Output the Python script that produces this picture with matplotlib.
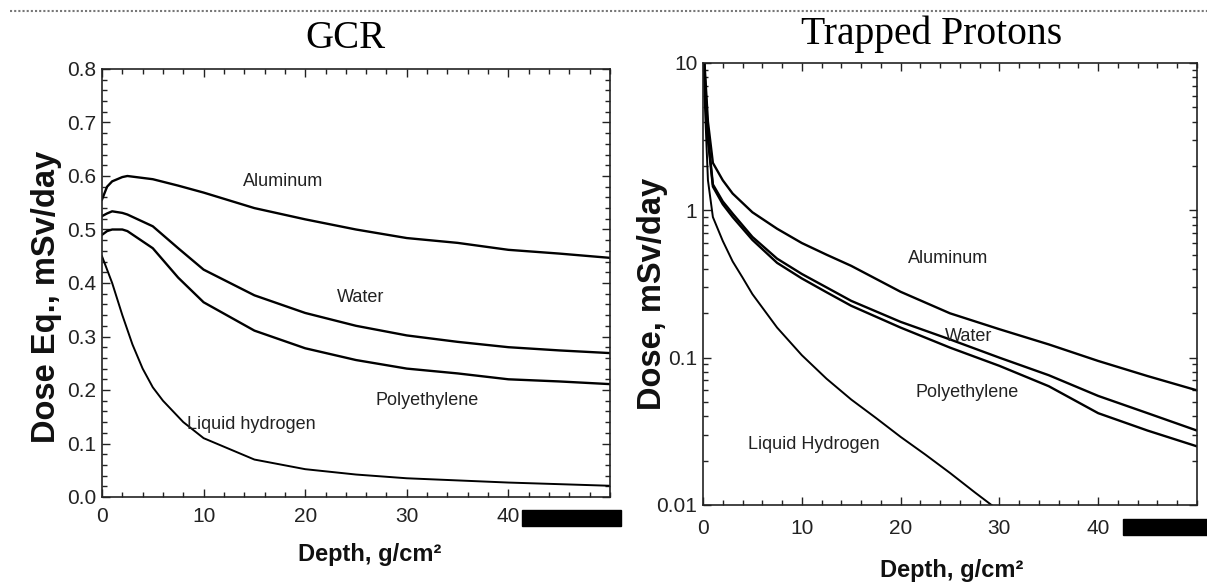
import numpy as np
import matplotlib
matplotlib.use('Agg')
import matplotlib.pyplot as plt
from matplotlib.lines import Line2D
from matplotlib.patches import Rectangle
from matplotlib.ticker import (MultipleLocator, LogLocator, FixedLocator, NullFormatter,
                               FormatStrFormatter, FixedFormatter)

# GCR dose equivalent vs depth (mSv/day)
gcr_depth = [0, 0.5, 1, 2, 2.5, 5, 7.5, 10, 15, 20, 25, 30, 35, 40, 45, 50]
gcr_al = [0.556, 0.58, 0.59, 0.598, 0.60, 0.594, 0.582, 0.569, 0.54, 0.519, 0.50, 0.484, 0.475, 0.462, 0.455, 0.447]
gcr_water = [0.525, 0.53, 0.534, 0.531, 0.528, 0.506, 0.465, 0.425, 0.377, 0.344, 0.32, 0.302, 0.29, 0.28, 0.274, 0.269]
gcr_poly = [0.49, 0.497, 0.50, 0.50, 0.497, 0.465, 0.41, 0.364, 0.311, 0.278, 0.256, 0.24, 0.231, 0.22, 0.216, 0.211]
gcr_lh2_depth = [0, 1, 2, 3, 4, 5, 6, 8, 10, 15, 20, 25, 30, 40, 50]
gcr_lh2 = [0.45, 0.40, 0.34, 0.285, 0.24, 0.205, 0.18, 0.14, 0.11, 0.07, 0.052, 0.042, 0.035, 0.027, 0.021]

# Trapped proton dose vs depth (mSv/day)
tp_depth = [0, 0.15, 0.5, 1, 2, 3, 5, 7.5, 10, 12.5, 15, 20, 25, 30, 35, 40, 45, 50]
tp_al = [15, 10, 4.0, 2.1, 1.6, 1.3, 0.97, 0.75, 0.6, 0.5, 0.42, 0.28, 0.2, 0.156, 0.123, 0.095, 0.075, 0.06]
tp_water = [15, 9, 3.2, 1.5, 1.15, 0.95, 0.66, 0.47, 0.37, 0.30, 0.243, 0.175, 0.133, 0.1, 0.076, 0.055, 0.042, 0.032]
tp_poly = [15, 9, 3.0, 1.45, 1.1, 0.9, 0.63, 0.44, 0.345, 0.278, 0.225, 0.16, 0.117, 0.088, 0.064, 0.042, 0.032, 0.025]
tp_lh2_depth = [0, 0.15, 0.5, 1, 2, 3, 4, 5, 7.5, 10, 12.5, 15, 17.5, 20, 22.5, 25, 27.5, 29.2, 31]
tp_lh2 = [15, 6, 1.6, 0.9, 0.62, 0.45, 0.35, 0.27, 0.16, 0.104, 0.072, 0.052, 0.039, 0.029, 0.022, 0.0165, 0.0122, 0.01, 0.0082]

x_ticks = [0, 10, 20, 30, 40]
log_ticks = [0.01, 0.1, 1, 10]
log_tick_labels = ['0.01', '0.1', '1', '10']

sans = ['Liberation Sans', 'DejaVu Sans']
serif = ['Liberation Serif', 'DejaVu Serif']

plt.rcParams['font.family'] = sans

fig = plt.figure(figsize=(12.07, 5.86), dpi=100)
W, H = 1207, 586


def box(x0, y0, x1, y1):
    return [x0 / W, 1 - y1 / H, (x1 - x0) / W, (y1 - y0) / H]


ax1 = fig.add_axes(box(102, 69, 610, 497))
ax2 = fig.add_axes(box(703, 63, 1197, 505))

lw = 1.7
ax1.plot(gcr_depth, gcr_al, color='black', lw=lw)
ax1.plot(gcr_depth, gcr_water, color='black', lw=lw)
ax1.plot(gcr_depth, gcr_poly, color='black', lw=lw)
ax1.plot(gcr_lh2_depth, gcr_lh2, color='black', lw=1.4)
ax1.set_xlim(0, 50)
ax1.set_ylim(0, 0.8)
ax1.xaxis.set_major_locator(FixedLocator(x_ticks))
ax1.xaxis.set_minor_locator(MultipleLocator(2))
ax1.yaxis.set_major_locator(MultipleLocator(0.1))
ax1.yaxis.set_minor_locator(MultipleLocator(0.02))
ax1.yaxis.set_major_formatter(FormatStrFormatter('%.1f'))

ax2.plot(tp_depth, tp_al, color='black', lw=lw)
ax2.plot(tp_depth, tp_water, color='black', lw=lw)
ax2.plot(tp_depth, tp_poly, color='black', lw=lw)
ax2.plot(tp_lh2_depth, tp_lh2, color='black', lw=1.4)
ax2.set_yscale('log')
ax2.set_xlim(0, 50)
ax2.set_ylim(0.01, 10)
ax2.xaxis.set_major_locator(FixedLocator(x_ticks))
ax2.xaxis.set_minor_locator(MultipleLocator(2))
ax2.yaxis.set_major_locator(FixedLocator(log_ticks))
ax2.yaxis.set_major_formatter(FixedFormatter(log_tick_labels))
ax2.yaxis.set_minor_locator(LogLocator(base=10, subs=np.arange(2, 10)))
ax2.yaxis.set_minor_formatter(NullFormatter())

for ax, xpad in ((ax1, 7), (ax2, 10)):
    for s in ax.spines.values():
        s.set_linewidth(1.2)
        s.set_color('#222222')
    ax.tick_params(which='both', direction='in', top=True, right=True, color='#222222', width=1.0)
    ax.tick_params(which='major', length=6)
    ax.tick_params(which='minor', length=3.5)
    ax.tick_params(axis='x', which='major', pad=xpad, labelsize=15, labelcolor='#222222')
    ax.tick_params(axis='y', which='major', pad=4, labelsize=15, labelcolor='#222222')

# curve labels
lab = dict(fontsize=13, color='#222222', ha='center', va='center')
ax1.text(17.8, 0.59, 'Aluminum', **lab)
ax1.text(25.5, 0.372, 'Water', **lab)
ax1.text(32, 0.181, 'Polyethylene', **lab)
ax1.text(14.7, 0.136, 'Liquid hydrogen', **lab)
ax2.text(24.8, 0.47, 'Aluminum', **lab)
ax2.text(26.9, 0.14, 'Water', **lab)
ax2.text(26.7, 0.058, 'Polyethylene', **lab)
ax2.text(11.25, 0.0257, 'Liquid Hydrogen', **lab)

# titles and axis labels
fig.text(345 / W, 1 - 38 / H, 'GCR', family=serif, fontsize=28, ha='center', va='center')
fig.text(932 / W, 1 - 34 / H, 'Trapped Protons', family=serif, fontsize=28.5, ha='center', va='center')
fig.text(47 / W, 1 - 297 / H, 'Dose Eq., mSv/day', fontsize=23.5, fontweight='bold',
         rotation=90, ha='center', va='center', color='#111111')
fig.text(652 / W, 1 - 294 / H, 'Dose, mSv/day', fontsize=23.5, fontweight='bold',
         rotation=90, ha='center', va='center', color='#111111')
fig.text(370 / W, 1 - 555 / H, 'Depth, g/cm²', fontsize=17, fontweight='bold',
         ha='center', va='center', color='#111111')
fig.text(952 / W, 1 - 571 / H, 'Depth, g/cm²', fontsize=17, fontweight='bold',
         ha='center', va='center', color='#111111')

# dotted rule at the top and black blocks over the last tick labels
fig.add_artist(Line2D([10 / W, 1], [1 - 11 / H, 1 - 11 / H], color='#777777', lw=1.5, ls=(0, (1, 1))))
fig.add_artist(Rectangle((522 / W, 1 - 526 / H), 99 / W, 16 / H, color='black', transform=fig.transFigure))
fig.add_artist(Rectangle((1123 / W, 1 - 535 / H), 84 / W, 16 / H, color='black', transform=fig.transFigure))

fig.savefig('out.png', dpi=100)
